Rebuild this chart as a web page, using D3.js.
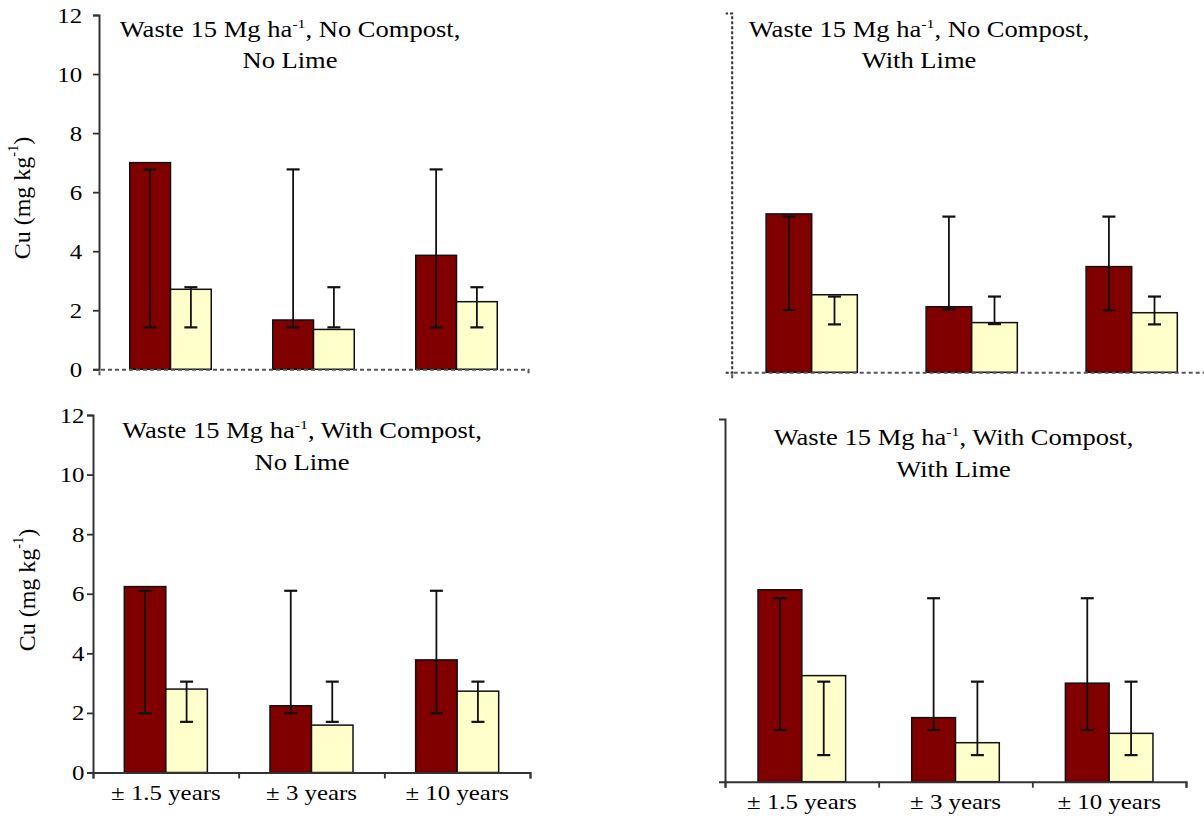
<!DOCTYPE html>
<html><head><meta charset="utf-8">
<script src="https://cdn.jsdelivr.net/npm/d3@7"></script>
<style>
html,body{margin:0;padding:0;background:#fff;}
svg{display:block;font-family:"Liberation Serif","Times New Roman",serif;}
</style></head><body>
<svg id="chart" width="1204" height="816"></svg>
<script>
// ---------- data ----------
const categories = ["± 1.5 years", "± 3 years", "± 10 years"];
const yTicks = [0, 2, 4, 6, 8, 10, 12];
const titleLine1 = ["Waste 15 Mg ha^-1, No Compost,", "Waste 15 Mg ha^-1, No Compost,",
                    "Waste 15 Mg ha^-1, With Compost,", "Waste 15 Mg ha^-1, With Compost,"];
const titleLine2 = ["No Lime", "With Lime", "No Lime", "With Lime"];
const yAxisTitle = "Cu (mg kg^-1)";

// panel 1: no compost, no lime
const p1Dark = [7.00, 1.67, 3.86];
const p1Light = [2.71, 1.35, 2.29];
const p1DarkLow = [1.42, 1.42, 1.42];
const p1DarkHigh = [6.77, 6.77, 6.77];
const p1LightLow = [1.42, 1.42, 1.42];
const p1LightHigh = [2.78, 2.78, 2.78];
// panel 2: no compost, with lime
const p2Dark = [5.29, 2.19, 3.53];
const p2Light = [2.59, 1.66, 1.99];
const p2DarkLow = [2.08, 2.10, 2.07];
const p2DarkHigh = [5.20, 5.20, 5.20];
const p2LightLow = [1.60, 1.61, 1.60];
const p2LightHigh = [2.53, 2.53, 2.53];
// panel 3: with compost, no lime
const p3Dark = [6.24, 2.24, 3.78];
const p3Light = [2.80, 1.59, 2.73];
const p3DarkLow = [1.99, 1.99, 1.99];
const p3DarkHigh = [6.10, 6.10, 6.10];
const p3LightLow = [1.70, 1.70, 1.70];
const p3LightHigh = [3.05, 3.05, 3.05];
// panel 4: with compost, with lime
const p4Dark = [6.35, 2.12, 3.26];
const p4Light = [3.51, 1.29, 1.60];
const p4DarkLow = [1.71, 1.71, 1.71];
const p4DarkHigh = [6.07, 6.07, 6.07];
const p4LightLow = [0.88, 0.88, 0.88];
const p4LightHigh = [3.31, 3.31, 3.31];

const seriesKeys = ["dark", "light"];
const colors = {dark: "#800000", light: "#FFFFCC"};

// ---------- layout ----------
const SX = 1.13;
const SXT = 1.18;
const panels = [
  {dark: p1Dark, light: p1Light, dLo: p1DarkLow, dHi: p1DarkHigh, lLo: p1LightLow, lHi: p1LightHigh,
   x0: 99, x1: 528, yTop: 15, yBase: 369.3, yDash: false, baseDash: true, yTicks: true, tickPad: 9,
   xTicks: false, xLabels: false, yLab: [22, 198], t1: [290, 37], t2: 68},
  {dark: p2Dark, light: p2Light, dLo: p2DarkLow, dHi: p2DarkHigh, lLo: p2LightLow, lHi: p2LightHigh,
   x0: 731.7, x1: 1211.7, yTop: 13, yBase: 372.3, yDash: true, baseDash: true, yTicks: false,
   xTicks: false, xLabels: false, yLab: null, t1: [919, 37], t2: 68},
  {dark: p3Dark, light: p3Light, dLo: p3DarkLow, dHi: p3DarkHigh, lLo: p3LightLow, lHi: p3LightHigh,
   x0: 93, x1: 530, yTop: 415, yBase: 772.5, yDash: false, baseDash: false, yTicks: true, tickPad: 1.5,
   xTicks: true, xLabels: true, labY: 800, yLab: [27, 590], t1: [302, 438], t2: 470},
  {dark: p4Dark, light: p4Light, dLo: p4DarkLow, dHi: p4DarkHigh, lLo: p4LightLow, lHi: p4LightHigh,
   x0: 725, x1: 1186, yTop: 419, yBase: 781.7, yDash: false, baseDash: false, yTicks: false,
   xTicks: true, xLabels: true, labY: 809, yLab: null, t1: [953.5, 445], t2: 477}
];

const svg = d3.select("#chart");

function richText(sel, str, size) {
  const parts = str.split("^-1");
  const t = sel.append("text").attr("text-anchor", "middle").attr("font-size", size).attr("fill", "#000");
  const shift = size * 0.38;
  t.append("tspan").text(parts[0]);
  if (parts.length > 1) {
    t.append("tspan").attr("font-size", size * 0.6).attr("dy", -shift).text("-1");
    t.append("tspan").attr("dy", shift).text(parts[1]);
  }
  return t;
}

panels.forEach((p, i) => {
  const g = svg.append("g");
  const y = d3.scaleLinear().domain([0, 12]).range([p.yBase, p.yTop]);
  const xBand = d3.scaleBand().domain(categories).range([p.x0, p.x1])
    .paddingInner(0.43).paddingOuter(0.215);
  const xSub = d3.scaleBand().domain(seriesKeys).range([0, xBand.bandwidth()]);
  const xBound = d3.scaleLinear().domain([0, categories.length]).range([p.x0, p.x1]);

  // bars
  const rows = categories.map((c, k) => ({
    cat: c,
    vals: [
      {key: "dark", v: p.dark[k], lo: p.dLo[k], hi: p.dHi[k]},
      {key: "light", v: p.light[k], lo: p.lLo[k], hi: p.lHi[k]}
    ]
  }));
  const grp = g.selectAll("g.grp").data(rows).join("g")
    .attr("transform", d => `translate(${xBand(d.cat)},0)`);
  grp.selectAll("rect").data(d => d.vals).join("rect")
    .attr("x", d => xSub(d.key))
    .attr("y", d => y(d.v))
    .attr("width", xSub.bandwidth())
    .attr("height", d => y(0) - y(d.v))
    .attr("fill", d => colors[d.key])
    .attr("stroke", "#111").attr("stroke-width", 1.5);

  // error bars
  const cap = 6.5;
  const eb = grp.selectAll("g.eb").data(d => d.vals).join("g")
    .attr("transform", d => `translate(${xSub(d.key) + xSub.bandwidth() / 2},0)`)
    .attr("stroke", "#111").attr("stroke-width", 1.8);
  eb.append("line").attr("x1", 0).attr("x2", 0).attr("y1", d => y(d.lo)).attr("y2", d => y(d.hi));
  eb.append("line").attr("x1", -cap).attr("x2", cap).attr("y1", d => y(d.hi)).attr("y2", d => y(d.hi)).attr("stroke-width", 2.2);
  eb.append("line").attr("x1", -cap).attr("x2", cap).attr("y1", d => y(d.lo)).attr("y2", d => y(d.lo)).attr("stroke-width", 2.2);

  // y axis
  const yAx = d3.axisLeft(y).tickSizeOuter(0).tickSize(6)
    .tickValues(p.yTicks ? yTicks : []).tickFormat(d3.format("d")).tickPadding(p.tickPad || 3);
  const yg = g.append("g").attr("transform", `translate(${p.x0},0)`).call(yAx);
  yg.select(".domain").attr("stroke", "#333").attr("stroke-width", 2)
    .attr("stroke-dasharray", p.yDash ? "3,2" : null);
  yg.selectAll(".tick line").attr("stroke", "#333").attr("stroke-width", 1.8);
  yg.selectAll(".tick text").attr("font-size", 22).attr("fill", "#000")
    .attr("font-family", '"Liberation Serif","Times New Roman",serif')
    .attr("transform", `scale(${SX},1)`);

  // x baseline + boundary ticks
  const xAx = d3.axisBottom(xBound).tickSizeOuter(0).tickSize(6)
    .tickValues(p.xTicks ? d3.range(categories.length + 1) : []).tickFormat("");
  const xg = g.append("g").attr("transform", `translate(0,${p.yBase})`).call(xAx);
  xg.select(".domain").attr("stroke", p.baseDash ? "#555" : "#333").attr("stroke-width", 2)
    .attr("stroke-dasharray", p.baseDash ? "4,3" : null);
  xg.selectAll(".tick line").attr("stroke", "#333").attr("stroke-width", 1.8);

  // category labels
  if (p.xLabels) {
    const lg = g.append("g").attr("transform", `translate(0,${p.labY})`)
      .call(d3.axisBottom(xBand).tickSize(0).tickPadding(0));
    lg.select(".domain").remove();
    lg.selectAll(".tick text").attr("y", 0).attr("dy", 0).attr("font-size", 22).attr("fill", "#000")
      .attr("font-family", '"Liberation Serif","Times New Roman",serif')
      .attr("transform", `scale(${SX},1)`);
  }

  // titles
  const tg1 = g.append("g").attr("transform", `translate(${p.t1[0]},${p.t1[1]}) scale(${SXT},1)`);
  richText(tg1, titleLine1[i], 22.5);
  const tg2 = g.append("g").attr("transform", `translate(${p.t1[0]},${p.t2}) scale(${SXT},1)`);
  richText(tg2, titleLine2[i], 22.5);

  // y axis title
  if (p.yLab) {
    const yl = g.append("g").attr("transform", `translate(${p.yLab[0]},${p.yLab[1]}) rotate(-90)`);
    richText(yl, yAxisTitle, 24).attr("dominant-baseline", "central");
  }
});
</script>
</body></html>
